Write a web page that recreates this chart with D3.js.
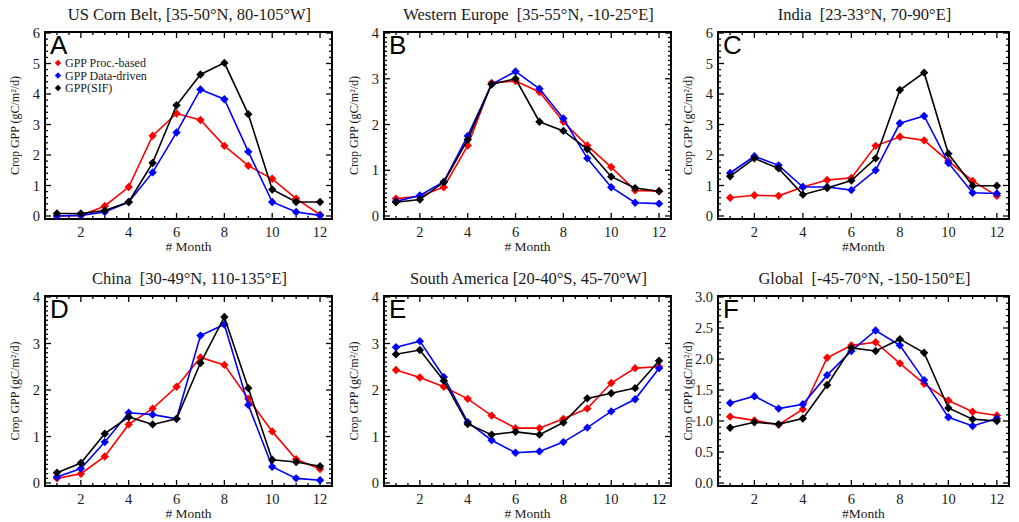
<!DOCTYPE html>
<meta charset="utf-8" />
<head>
  <script src="https://d3js.org/d3.v7.min.js"></script>
  <title>Crop GPP seasonal cycles</title>
  <style>
    body { margin: 0; background: #fff; }
    text { font-family: "Liberation Serif", "Times New Roman", serif; fill: #1a1a1a; }
    .letter { font-family: "Liberation Sans", Arial, sans-serif; fill: #000; }
    .frame { fill: none; stroke: #000; stroke-width: 2; }
  </style>
</head>
<body>
  <svg id="chart" width="1019" height="522"></svg>
</body>

<script>
  const months = [1, 2, 3, 4, 5, 6, 7, 8, 9, 10, 11, 12];
  const seriesNames = ["GPP Proc.-based", "GPP Data-driven", "GPP(SIF)"];
  const seriesColors = ["#ff0000", "#0000ff", "#000000"];

  // A: US Corn Belt
  const cornProc = [0.0, 0.02, 0.33, 0.95, 2.63, 3.36, 3.15, 2.3, 1.65, 1.22, 0.57, 0.04];
  const cornData = [0.0, 0.02, 0.13, 0.46, 1.43, 2.74, 4.15, 3.83, 2.11, 0.46, 0.13, 0.02];
  const cornSif = [0.08, 0.08, 0.18, 0.46, 1.74, 3.63, 4.64, 5.02, 3.34, 0.87, 0.46, 0.46];
  // B: Western Europe
  const euroProc = [0.38, 0.43, 0.63, 1.54, 2.91, 2.95, 2.71, 2.06, 1.54, 1.07, 0.56, 0.54];
  const euroData = [0.32, 0.45, 0.75, 1.75, 2.88, 3.16, 2.78, 2.13, 1.26, 0.63, 0.29, 0.27];
  const euroSif = [0.3, 0.36, 0.74, 1.67, 2.88, 3.0, 2.06, 1.86, 1.46, 0.86, 0.61, 0.54];
  // C: India
  const indiaProc = [0.6, 0.68, 0.66, 0.95, 1.18, 1.25, 2.3, 2.6, 2.48, 1.8, 1.15, 0.66];
  const indiaData = [1.41, 1.96, 1.66, 0.95, 0.95, 0.85, 1.5, 3.04, 3.28, 1.74, 0.76, 0.74];
  const indiaSif = [1.3, 1.89, 1.56, 0.7, 0.92, 1.16, 1.89, 4.13, 4.7, 2.04, 0.99, 0.99];
  // D: China
  const chinaProc = [0.1, 0.2, 0.57, 1.26, 1.6, 2.07, 2.7, 2.54, 1.81, 1.11, 0.51, 0.3];
  const chinaData = [0.13, 0.31, 0.88, 1.51, 1.47, 1.38, 3.17, 3.41, 1.68, 0.35, 0.1, 0.06];
  const chinaSif = [0.22, 0.43, 1.06, 1.42, 1.26, 1.38, 2.58, 3.57, 2.04, 0.5, 0.45, 0.36];
  // E: South America
  const samProc = [2.43, 2.27, 2.07, 1.81, 1.45, 1.18, 1.18, 1.38, 1.6, 2.15, 2.47, 2.5];
  const samData = [2.92, 3.05, 2.28, 1.31, 0.92, 0.65, 0.68, 0.88, 1.19, 1.54, 1.8, 2.47];
  const samSif = [2.77, 2.86, 2.2, 1.27, 1.04, 1.1, 1.04, 1.3, 1.82, 1.93, 2.04, 2.63];
  // F: Global
  const globProc = [1.07, 1.01, 0.94, 1.19, 2.02, 2.22, 2.27, 1.93, 1.6, 1.33, 1.15, 1.09];
  const globData = [1.29, 1.4, 1.2, 1.27, 1.74, 2.13, 2.46, 2.22, 1.66, 1.06, 0.92, 1.04];
  const globSif = [0.89, 0.98, 0.95, 1.04, 1.58, 2.18, 2.13, 2.32, 2.1, 1.21, 1.03, 1.0];

  const panels = [
    { letter: "A", title: "US Corn Belt, [35-50°N, 80-105°W]", xlab: "# Month", ymax: 6, ystep: 1, yminor: 0.2, fmt: "d",
      series: [cornProc, cornData, cornSif], legend: true },
    { letter: "B", title: "Western Europe  [35-55°N, -10-25°E]", xlab: "# Month", ymax: 4, ystep: 1, yminor: 0.1, fmt: "d",
      series: [euroProc, euroData, euroSif] },
    { letter: "C", title: "India  [23-33°N, 70-90°E]", xlab: "#Month", ymax: 6, ystep: 1, yminor: 0.2, fmt: "d",
      series: [indiaProc, indiaData, indiaSif] },
    { letter: "D", title: "China  [30-49°N, 110-135°E]", xlab: "# Month", ymax: 4, ystep: 1, yminor: 0.1, fmt: "d",
      series: [chinaProc, chinaData, chinaSif] },
    { letter: "E", title: "South America [20-40°S, 45-70°W]", xlab: "# Month", ymax: 4, ystep: 1, yminor: 0.1, fmt: "d",
      series: [samProc, samData, samSif] },
    { letter: "F", title: "Global  [-45-70°N, -150-150°E]", xlab: "#Month", ymax: 3, ystep: 0.5, yminor: 0.1, fmt: ".1f",
      series: [globProc, globData, globSif] },
  ];

  const cols = [
    { left: 45, right: 332 },
    { left: 384, right: 671 },
    { left: 718, right: 1009 },
  ];
  const rows = [
    { top: 32, bottom: 219 },
    { top: 296, bottom: 486 },
  ];

  const svg = d3.select("#chart");
  const diamond = "M0,-4.2L4.2,0L0,4.2L-4.2,0Z";

  panels.forEach((p, i) => {
    const c = cols[i % 3];
    const r = rows[Math.floor(i / 3)];
    const g = svg.append("g");

    const x = d3.scaleLinear().domain([0.5, 12.5]).range([c.left, c.right]);
    const y = d3.scaleLinear().domain([0, p.ymax]).range([r.bottom - 3, r.top + 1]);

    const majorX = [2, 4, 6, 8, 10, 12];
    const minorX = d3.range(1, 12.01, 0.5);
    const majorY = d3.range(0, p.ymax + 1e-6, p.ystep);
    const minorY = d3.range(0, p.ymax + 1e-6, p.yminor);

    // inward ticks on all four sides
    const ticks = g.append("g").attr("stroke", "#000").attr("stroke-width", 1.3);
    minorX.forEach((v) => {
      const len = majorX.includes(v) ? 6 : 3;
      ticks.append("line").attr("x1", x(v)).attr("x2", x(v)).attr("y1", r.bottom).attr("y2", r.bottom - len);
      ticks.append("line").attr("x1", x(v)).attr("x2", x(v)).attr("y1", r.top).attr("y2", r.top + len);
    });
    minorY.forEach((v) => {
      const isMajor = majorY.some((m) => Math.abs(m - v) < 1e-6);
      const len = isMajor ? 6 : 3;
      ticks.append("line").attr("x1", c.left).attr("x2", c.left + len).attr("y1", y(v)).attr("y2", y(v));
      ticks.append("line").attr("x1", c.right).attr("x2", c.right - len).attr("y1", y(v)).attr("y2", y(v));
    });

    g.append("rect").attr("class", "frame")
      .attr("x", c.left).attr("y", r.top)
      .attr("width", c.right - c.left).attr("height", r.bottom - r.top);

    // tick labels
    g.selectAll(".xl").data(majorX).enter().append("text")
      .attr("x", (d) => x(d)).attr("y", r.bottom + 18)
      .attr("text-anchor", "middle").style("font-size", "14.5px")
      .text((d) => d);
    g.selectAll(".yl").data(majorY).enter().append("text")
      .attr("x", c.left - 5).attr("y", (d) => y(d) + 5)
      .attr("text-anchor", "end").style("font-size", "14.5px")
      .text((d) => d3.format(p.fmt)(d));

    // titles
    g.append("text").attr("x", (c.left + c.right) / 2 + 1).attr("y", r.top - 12)
      .attr("text-anchor", "middle").style("font-size", "16.5px").style("white-space", "pre")
      .text(p.title);
    g.append("text").attr("x", (c.left + c.right) / 2).attr("y", r.bottom + 32)
      .attr("text-anchor", "middle").style("font-size", "13.5px")
      .text(p.xlab);
    g.append("text")
      .attr("transform", `translate(${c.left - 26},${(r.top + r.bottom) / 2}) rotate(-90)`)
      .attr("text-anchor", "middle").style("font-size", "12px")
      .text("Crop GPP (gC/m²/d)");
    g.append("text").attr("class", "letter")
      .attr("x", c.left + 5).attr("y", r.top + 22)
      .style("font-size", "26px").text(p.letter);

    // series
    const line = d3.line().x((d, k) => x(months[k])).y((d) => y(d));
    p.series.forEach((vals, s) => {
      g.append("path").datum(vals)
        .attr("fill", "none").attr("stroke", seriesColors[s]).attr("stroke-width", 1.6)
        .attr("d", line);
      g.selectAll(null).data(vals).enter().append("path")
        .attr("d", diamond).attr("fill", seriesColors[s])
        .attr("transform", (d, k) => `translate(${x(months[k])},${y(d)})`);
    });

    if (p.legend) {
      const lg = g.append("g");
      seriesNames.forEach((name, s) => {
        const ly = r.top + 31 + s * 12.5;
        lg.append("path").attr("d", "M0,-3.2L3.2,0L0,3.2L-3.2,0Z").attr("fill", seriesColors[s])
          .attr("transform", `translate(${c.left + 13},${ly})`);
        lg.append("text").attr("x", c.left + 20).attr("y", ly + 4)
          .style("font-size", "12px").text(name);
      });
    }
  });
</script>
